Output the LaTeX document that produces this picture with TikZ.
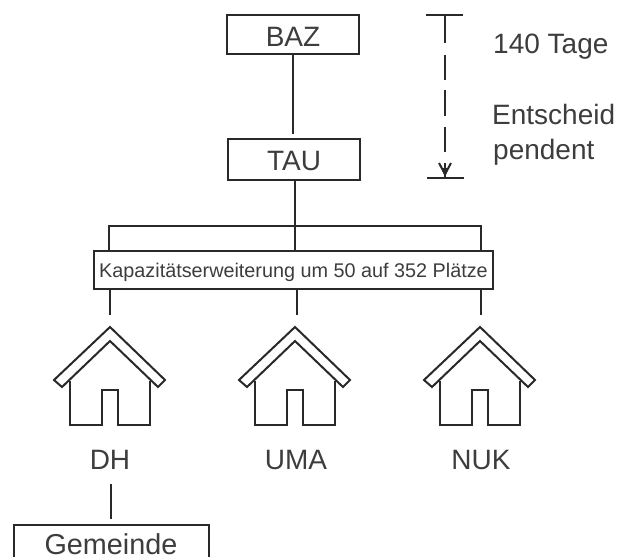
\documentclass[tikz,border=0pt]{standalone}
\usepackage{fontspec}
\setmainfont{Liberation Sans}
\definecolor{ink}{gray}{0.16}
\definecolor{txt}{gray}{0.24}
\tikzset{
  x=1pt,y=-1pt,
  ln/.style={draw=ink,line width=2pt},
  boxnode/.style={ln,fill=white,inner sep=0pt,text=txt,font=\fontsize{28}{28}\selectfont,anchor=center},
  lab/.style={text=txt,font=\fontsize{28}{28}\selectfont,inner sep=0pt,anchor=base},
  side/.style={text=txt,font=\fontsize{28}{28}\selectfont,inner sep=0pt,anchor=base west},
  house/.pic={
    \draw[ln,line join=miter,fill=white] (0,0) -- (55,53) -- (48,60) -- (0,14) -- (-48,60) -- (-56,53) -- cycle;
    \draw[ln,line join=miter] (-40,54) -- (-40,98) -- (-8,98) -- (-8,63) -- (8,63) -- (8,98) -- (40,98) -- (40,54);
  }
}
\begin{document}
\begin{tikzpicture}
\useasboundingbox (0,0) rectangle (619,557);
\clip (0,0) rectangle (619,557);
\node[boxnode,minimum width=132pt,minimum height=39pt,text height=23pt,text depth=0pt] (baz) at (293,34.5) {BAZ};
\node[boxnode,minimum width=132pt,minimum height=41pt,text height=21pt,text depth=0pt] (tau) at (294,159.5) {TAU};
\node[boxnode,minimum width=399pt,minimum height=38pt,text height=14pt,text depth=0pt,font=\fontsize{19.8}{20}\selectfont] (kap) at (293.5,270) {Kapazitätserweiterung um 50 auf 352 Plätze};
\coordinate (bazend) at (293,134);
\draw[ln] (baz.south -| bazend) -- (bazend);
\coordinate (bar) at (295,226);
\coordinate (barL) at (109,226);
\coordinate (barR) at (481,226);
\draw[ln] (tau.south -| bar) -- (bar |- kap.north);
\draw[ln] (barL |- kap.north) -- (barL) -- (barR) -- (barR |- kap.north);
\coordinate (c1) at (110,315);
\coordinate (c2) at (297,315);
\coordinate (c3) at (481,315);
\foreach \c in {c1,c2,c3}{
  \draw[ln] (\c |- kap.south) -- (\c);
}
\coordinate (h1) at (110,327);
\coordinate (h2) at (295,327);
\coordinate (h3) at (480,327);
\foreach \h in {h1,h2,h3}{
  \pic at (\h) {house};
}
\node[lab] (dh) at (110,469) {DH};
\node[lab] (uma) at (296,469) {UMA};
\node[lab] (nuk) at (481,469) {NUK};
\node[boxnode,minimum width=195pt,text height=29pt,text depth=6pt,anchor=north,font=\fontsize{28.8}{29}\selectfont] (gem) at (111,524) {Gemeinde};
\coordinate (gemend) at (110.5,519);
\coordinate (dhend) at (110.5,484);
\draw[ln] (dhend) -- (gemend);
\coordinate (t1) at (426,15);
\coordinate (t2) at (463,15);
\coordinate (tm) at (445,15);
\coordinate (b1) at (427,178);
\coordinate (b2) at (464,178);
\coordinate (bm) at (445,178);
\draw[ln] (t1) -- (t2);
\draw[ln] (b1) -- (b2);
\draw[ln,dash pattern=on 28pt off 12pt on 25pt off 10pt on 26pt off 11pt on 25pt off 100pt] (tm) -- (bm);
\draw[ln] (439,163) -- (445,174) -- (451,163);
\draw[ln] (445,163) -- (bm);
\fill[ink] (441,168) -- (449,168) -- (445,177) -- cycle;
\node[side] (t140) at (493,53) {140 Tage};
\node[side] (ent) at (492,124) {Entscheid};
\node[side] (pen) at (493,159) {pendent};
\end{tikzpicture}
\end{document}
